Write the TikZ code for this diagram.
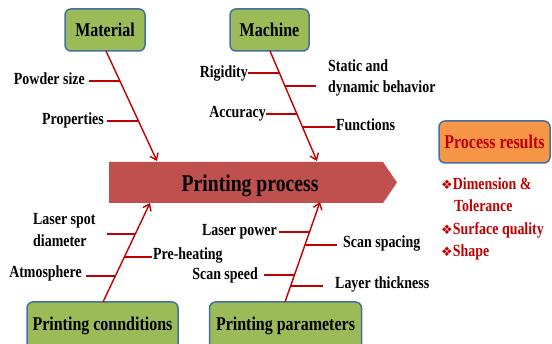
\documentclass[tikz,border=0pt]{standalone}
\usepackage{fontspec}
\setmainfont{Liberation Serif}[FakeStretch=0.82]
\newfontfamily\symfont{DejaVu Sans}
\usetikzlibrary{arrows.meta}
\definecolor{boxgreen}{HTML}{9BBB59}
\definecolor{boxedge}{HTML}{41719C}
\definecolor{boxorange}{HTML}{F79646}
\definecolor{spinered}{HTML}{C00000}
\definecolor{mainred}{HTML}{C0504D}
\definecolor{resred}{HTML}{C00000}
\newcommand{\bul}{{\symfont\fontsize{13}{13}\selectfont ❖}}
\begin{document}
\begin{tikzpicture}[x=1pt,y=-1pt,
  catbox/.style={draw=boxedge, line width=1.5pt, fill=boxgreen, rounded corners=6pt, inner sep=0pt, font=\fontsize{19.5}{21}\selectfont\bfseries},
  resbox/.style={draw=boxedge, line width=1.5pt, fill=boxorange, rounded corners=6pt, inner sep=0pt, text=resred, font=\fontsize{19.5}{21}\selectfont\bfseries},
  lbl/.style={inner sep=0pt, font=\fontsize{17}{20}\selectfont\bfseries},
  res/.style={inner sep=0pt, text=resred, font=\fontsize{17}{20}\selectfont\bfseries},
  spine/.style={draw=spinered, line width=1.4pt, -{Straight Barb[length=6pt,width=9pt,line width=1.4pt]}},
  twig/.style={draw=spinered, line width=1.4pt}]
\useasboundingbox (0,0) rectangle (552,344);
\clip (0,0) rectangle (552,344);

% main arrow
\fill[mainred] (109,162) -- (383,162) -- (397,182.5) -- (383,203) -- (109,203) -- cycle;
\node[inner sep=0pt, anchor=base, font=\fontsize{24}{26}\selectfont\bfseries] (pp) at (250,192) {Printing process};

% category boxes
\node[catbox, minimum width=80pt, minimum height=42pt] (mat) at (105,30) {Material};
\node[catbox, minimum width=79pt, minimum height=42pt] (mac) at (269.5,30) {Machine};
\node[catbox, minimum width=151pt, minimum height=48pt] (pc) at (102.5,326) {Printing connditions};
\node[catbox, minimum width=152pt, minimum height=48pt] (ppar) at (285.5,326) {Printing parameters};
\node[resbox, minimum width=111pt, minimum height=42pt] (resb) at (494.5,142) {Process results};

% spine tips
\coordinate (tA) at (157,161);
\coordinate (tB) at (317,161);
\coordinate (tC) at (150,203);
\coordinate (tD) at (320,202);
\coordinate (sA) at (106,51);
\coordinate (sB) at (270,51);
\coordinate (sC) at (103,302);
\coordinate (sD) at (285,302);

\draw[spine] (sA) -- (tA);
\draw[spine] (sB) -- (tB);
\draw[spine] (sC) -- (tC);
\draw[spine] (sD) -- (tD);

% Material
\node[lbl, anchor=base east] (ps) at (85,85) {Powder size};
\node[lbl, anchor=base east] (prop) at (104,125) {Properties};
\coordinate (ps1) at (89,81); \coordinate (ps2) at (120,81);
\coordinate (pr1) at (107,121); \coordinate (pr2) at (138.5,121);
\draw[twig] (ps1) -- (ps2);
\draw[twig] (pr1) -- (pr2);

% Machine
\node[lbl, anchor=base east] (rig) at (248,78) {Rigidity};
\node[lbl, anchor=base west] (st1) at (328,72) {Static and};
\node[lbl, anchor=base west] (st2) at (328,93) {dynamic behavior};
\node[lbl, anchor=base east] (acc) at (266,118) {Accuracy};
\node[lbl, anchor=base west] (fun) at (336,131) {Functions};
\coordinate (rg1) at (248,73); \coordinate (rg2) at (279.4,73);
\coordinate (sd1) at (285,86); \coordinate (sd2) at (316,86);
\coordinate (ac1) at (266,114); \coordinate (ac2) at (297,114);
\coordinate (fn1) at (302.5,127); \coordinate (fn2) at (335,127);
\draw[twig] (rg1) -- (rg2);
\draw[twig] (sd1) -- (sd2);
\draw[twig] (ac1) -- (ac2);
\draw[twig] (fn1) -- (fn2);

% Printing connditions
\node[lbl, anchor=base west] (ls1) at (33,225) {Laser spot};
\node[lbl, anchor=base west] (ls2) at (33,247) {diameter};
\node[lbl, anchor=base west] (ph) at (153,260) {Pre-heating};
\node[lbl, anchor=base east] (atm) at (82,278) {Atmosphere};
\coordinate (l1) at (107,234); \coordinate (l2) at (135.4,234);
\coordinate (h1) at (124.6,257); \coordinate (h2) at (152,257);
\coordinate (a1) at (86,276); \coordinate (a2) at (115.7,276);
\draw[twig] (l1) -- (l2);
\draw[twig] (h1) -- (h2);
\draw[twig] (a1) -- (a2);

% Printing parameters
\node[lbl, anchor=base east] (lp) at (277,236) {Laser power};
\node[lbl, anchor=base west] (ssp) at (343,248) {Scan spacing};
\node[lbl, anchor=base east] (ssd) at (258,280) {Scan speed};
\node[lbl, anchor=base west] (lt) at (335,289) {Layer thickness};
\coordinate (p1) at (279,232); \coordinate (p2) at (309.6,232);
\coordinate (q1) at (305,245); \coordinate (q2) at (337,245);
\coordinate (r1) at (264,275); \coordinate (r2) at (294.7,275);
\coordinate (u1) at (290.9,286); \coordinate (u2) at (323,286);
\draw[twig] (p1) -- (p2);
\draw[twig] (q1) -- (q2);
\draw[twig] (r1) -- (r2);
\draw[twig] (u1) -- (u2);

% results
\node[res, anchor=base west] (re1) at (441,190) {\bul Dimension \&};
\node[res, anchor=base west] (re2) at (454,212) {Tolerance};
\node[res, anchor=base west] (re3) at (441,235) {\bul Surface quality};
\node[res, anchor=base west] (re4) at (441,257) {\bul Shape};
\end{tikzpicture}
\end{document}
